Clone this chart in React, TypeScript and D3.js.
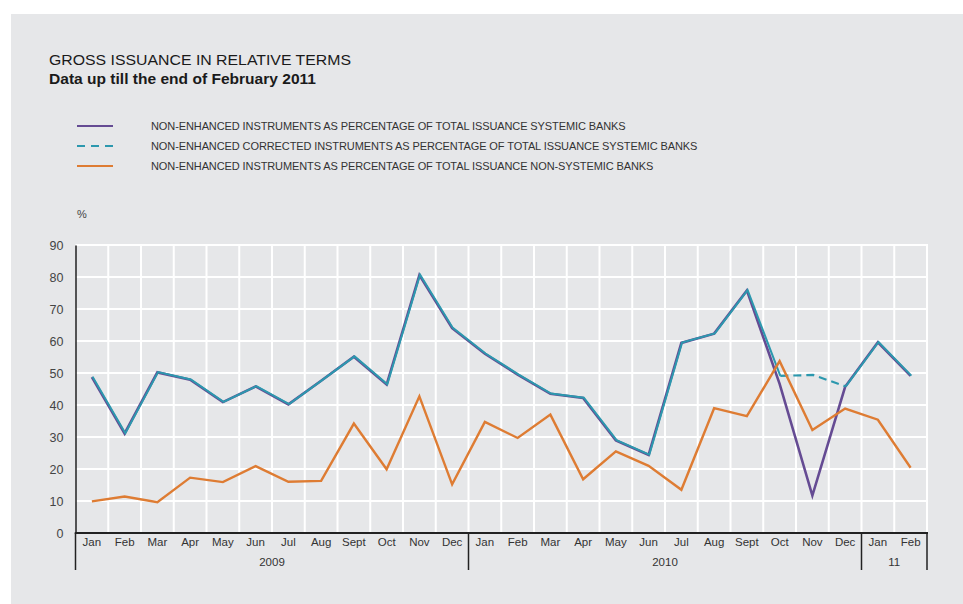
import React, { useRef, useEffect } from "react";
import * as d3 from "d3";

const WIDTH = 963;
const HEIGHT = 604;
const PLOT = { left: 75.5, right: 927, top: 245, bottom: 533 };

const BG = "#e6e7e9";
const PURPLE = "#654b93";
const TEAL = "#2c98ae";
const ORANGE = "#de7c33";

const MONTHS = ["Jan", "Feb", "Mar", "Apr", "May", "Jun", "Jul", "Aug", "Sept", "Oct", "Nov", "Dec"];
const YEAR_LABELS = ["2009", "2010", "11"];
const YEAR_LENGTHS = [12, 12, 2];
const Y_TICKS = [0, 10, 20, 30, 40, 50, 60, 70, 80, 90];

// systemic banks, non-enhanced share of total issuance (%)
const SYSTEMIC = [
  48.7, 31.1, 50.2, 47.9, 40.9, 45.8, 40.2, 47.6, 55.1, 46.4, 80.6, 64.0,
  56.0, 49.5, 43.5, 42.2, 28.9, 24.4, 59.4, 62.3, 75.8, 46.6, 11.7, 45.7,
  59.6, 49.1,
];
// corrected series, differs only Oct–Nov 2010
const SYSTEMIC_CORRECTED = [
  48.7, 31.1, 50.2, 47.9, 40.9, 45.8, 40.2, 47.6, 55.1, 46.4, 80.6, 64.0,
  56.0, 49.5, 43.5, 42.2, 28.9, 24.4, 59.4, 62.3, 75.8, 49.0, 49.3, 45.7,
  59.6, 49.1,
];
const CORRECTED_DASHED = [21, 23]; // index range drawn dashed
const NON_SYSTEMIC = [
  9.9, 11.4, 9.6, 17.3, 15.9, 20.9, 16.0, 16.3, 34.2, 19.9, 42.7, 15.2,
  34.7, 29.7, 37.0, 16.8, 25.5, 21.0, 13.5, 39.0, 36.5, 53.7, 32.2, 38.9,
  35.4, 20.4,
];

const LEGEND = [
  { label: "NON-ENHANCED INSTRUMENTS AS PERCENTAGE OF TOTAL ISSUANCE SYSTEMIC BANKS", color: PURPLE, dash: null },
  { label: "NON-ENHANCED CORRECTED INSTRUMENTS AS PERCENTAGE OF TOTAL ISSUANCE SYSTEMIC BANKS", color: TEAL, dash: "8,6" },
  { label: "NON-ENHANCED INSTRUMENTS AS PERCENTAGE OF TOTAL ISSUANCE NON-SYSTEMIC BANKS", color: ORANGE, dash: null },
];

const FONT = "'Liberation Sans', Arial, sans-serif";

export default function App() {
  const svgRef = useRef<SVGSVGElement>(null);

  useEffect(() => {
    const svg = d3.select(svgRef.current);
    svg.selectAll("*").remove();

    const categories: string[] = [];
    YEAR_LENGTHS.forEach((n, yi) => {
      for (let m = 0; m < n; m++) categories.push(`${MONTHS[m]} ${YEAR_LABELS[yi]}`);
    });

    const x = d3.scaleBand().domain(categories).range([PLOT.left, PLOT.right]).padding(0);
    const y = d3.scaleLinear().domain([0, 90]).range([PLOT.bottom, PLOT.top]);
    const cx = (i: number) => (x(categories[i]) as number) + x.bandwidth() / 2;

    svg.append("rect").attr("x", 11).attr("y", 14).attr("width", WIDTH - 11).attr("height", HEIGHT - 14).attr("fill", BG);

    // Titles
    svg.append("text").attr("x", 49).attr("y", 65).attr("font-size", 15.5).attr("fill", "#1a1a1a")
      .attr("textLength", 302).attr("lengthAdjust", "spacingAndGlyphs")
      .text("GROSS ISSUANCE IN RELATIVE TERMS");
    svg.append("text").attr("x", 49).attr("y", 84).attr("font-size", 15).attr("font-weight", 700).attr("fill", "#1a1a1a")
      .attr("textLength", 267).attr("lengthAdjust", "spacingAndGlyphs")
      .text("Data up till the end of February 2011");

    // Legend
    const lg = svg.append("g").selectAll("g").data(LEGEND).join("g")
      .attr("transform", (d, i) => `translate(0,${126 + i * 20})`);
    lg.append("line").attr("x1", 77).attr("x2", 113).attr("stroke", (d) => d.color).attr("stroke-width", 2.2)
      .attr("stroke-dasharray", (d) => d.dash);
    lg.append("text").attr("x", 151).attr("y", 4).attr("font-size", 11).attr("fill", "#333")
      .attr("letter-spacing", -0.1)
      .text((d) => d.label);

    svg.append("text").attr("x", 77).attr("y", 218).attr("font-size", 11).attr("fill", "#444").text("%");

    // Grid
    const grid = svg.append("g");
    grid.selectAll(".h").data(Y_TICKS.slice(1)).join("line")
      .attr("x1", PLOT.left).attr("x2", PLOT.right + 1)
      .attr("y1", (d) => y(d)).attr("y2", (d) => y(d))
      .attr("stroke", "#fff").attr("stroke-width", 2);
    grid.selectAll(".v").data(categories).join("line")
      .attr("x1", (d) => (x(d) as number) + x.bandwidth()).attr("x2", (d) => (x(d) as number) + x.bandwidth())
      .attr("y1", PLOT.top - 1).attr("y2", PLOT.bottom)
      .attr("stroke", "#fff").attr("stroke-width", 2);

    // Y axis
    const yAxis = svg.append("g").attr("transform", `translate(${PLOT.left},0)`)
      .call(d3.axisLeft(y).tickValues(Y_TICKS).tickSize(0).tickPadding(12));
    yAxis.select(".domain").attr("stroke", "#222").attr("stroke-width", 1.5);
    yAxis.selectAll("text").attr("font-size", 12.5).attr("fill", "#444").attr("font-family", FONT);

    // X axis
    const xAxis = svg.append("g").attr("transform", `translate(0,${PLOT.bottom})`)
      .call(d3.axisBottom(x).tickSize(0).tickPadding(5).tickFormat((d) => d.split(" ")[0]));
    xAxis.select(".domain").remove();
    xAxis.selectAll("text").attr("font-size", 11.5).attr("fill", "#333").attr("font-family", FONT);
    svg.append("line").attr("x1", PLOT.left - 0.75).attr("x2", PLOT.right + 1).attr("y1", PLOT.bottom).attr("y2", PLOT.bottom)
      .attr("stroke", "#222").attr("stroke-width", 2);

    // Year brackets
    let start = 0;
    const bounds: number[] = [x(categories[0]) as number];
    YEAR_LENGTHS.forEach((n, yi) => {
      const x0 = x(categories[start]) as number;
      const x1 = (x(categories[start + n - 1]) as number) + x.bandwidth();
      bounds.push(x1);
      svg.append("text").attr("x", (x0 + x1) / 2).attr("y", 566).attr("text-anchor", "middle")
        .attr("font-size", 11.5).attr("fill", "#333").attr("font-family", FONT).text(YEAR_LABELS[yi]);
      start += n;
    });
    svg.selectAll(".yb").data(bounds).join("line")
      .attr("x1", (d) => d).attr("x2", (d) => d).attr("y1", PLOT.bottom).attr("y2", 570)
      .attr("stroke", "#222").attr("stroke-width", 1.5);

    // Lines
    const line = d3.line<number>().x((d, i) => cx(i)).y((d) => y(d));
    svg.append("path").datum(SYSTEMIC).attr("fill", "none").attr("stroke", PURPLE)
      .attr("stroke-width", 2.6).attr("stroke-linejoin", "miter").attr("d", line);

    const [d0, d1] = CORRECTED_DASHED;
    const segLine = (from: number, to: number) =>
      d3.line<number>().x((d, i) => cx(i + from)).y((d) => y(d))(SYSTEMIC_CORRECTED.slice(from, to + 1));
    const teal = svg.append("g").attr("transform", "translate(0.7,-0.3)");
    teal.append("path").attr("d", segLine(0, d0)).attr("fill", "none").attr("stroke", TEAL).attr("stroke-width", 2);
    teal.append("path").attr("d", segLine(d0, d1)).attr("fill", "none").attr("stroke", TEAL).attr("stroke-width", 2.2)
      .attr("stroke-dasharray", "8,5");
    teal.append("path").attr("d", segLine(d1, SYSTEMIC_CORRECTED.length - 1)).attr("fill", "none").attr("stroke", TEAL).attr("stroke-width", 2);

    svg.append("path").datum(NON_SYSTEMIC).attr("fill", "none").attr("stroke", ORANGE)
      .attr("stroke-width", 2.4).attr("d", line);
  }, []);

  return (
    <svg
      ref={svgRef}
      width={WIDTH}
      height={HEIGHT}
      style={{ position: "absolute", left: 0, top: 0, fontFamily: FONT }}
    />
  );
}
